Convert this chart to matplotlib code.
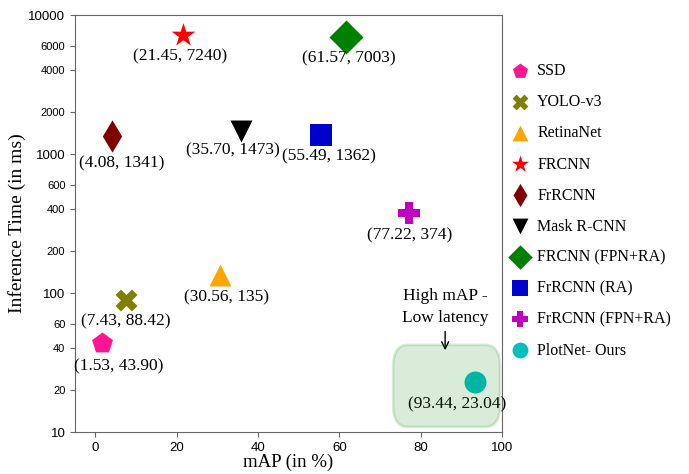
import numpy as np
import matplotlib.pyplot as plt
from matplotlib.patches import FancyBboxPatch

# detector results: mAP (%) vs inference time (ms)
models = ['SSD', 'YOLO-v3', 'RetinaNet', 'FRCNN', 'FrRCNN', 'Mask R-CNN',
          'FRCNN (FPN+RA)', 'FrRCNN (RA)', 'FrRCNN (FPN+RA)', 'PlotNet- Ours']
map_vals = [1.53, 7.43, 30.56, 21.45, 4.08, 35.70, 61.57, 55.49, 77.22, 93.44]
time_vals = [43.90, 88.42, 135, 7240, 1341, 1473, 7003, 1362, 374, 23.04]
point_labels = ['(1.53, 43.90)', '(7.43, 88.42)', '(30.56, 135)', '(21.45, 7240)',
                '(4.08, 1341)', '(35.70, 1473)', '(61.57, 7003)', '(55.49, 1362)',
                '(77.22, 374)', '(93.44, 23.04)']

markers = ['p', 'X', '^', '*', 'd', 'v', 'D', 's', 'P', 'o']
colors = ['deeppink', 'olive', 'orange', 'red', 'maroon', 'black',
          'green', 'mediumblue', 'm', 'c']
sizes = [250, 250, 250, 320, 270, 250, 300, 230, 250, 250]
# where each value label sits relative to its marker (pixels)
label_offsets = [(17, -24), (0, -21), (7, -22), (-3, -22), (10, -27), (-8, -20),
                 (3, -22), (8, -21), (0, -22), (-18, -23)]

yticks = [10, 20, 40, 60, 100, 200, 400, 600, 1000, 2000, 4000, 6000, 10000]

fig = plt.figure(figsize=(6.89, 4.74), dpi=100)
ax = fig.add_axes([0.109, 0.0886, 0.6197, 0.8797])

for i in range(len(models)):
    ax.scatter(map_vals[i], time_vals[i], marker=markers[i], c=colors[i],
               s=sizes[i], label=models[i], zorder=3, linewidths=0)
    dx, dy = label_offsets[i]
    ax.annotate(point_labels[i], (map_vals[i], time_vals[i]),
                xytext=(dx * 0.72, dy * 0.72), textcoords='offset points',
                ha='center', va='center', fontsize=12.5,
                family='Liberation Serif', zorder=4)

ax.set_yscale('log')
ax.set_xlim(-5, 100)
ax.set_ylim(10, 10000)
ax.minorticks_off()
ax.set_yticks(yticks)
ax.set_yticklabels([str(t) for t in yticks])
for lab, t in zip(ax.get_yticklabels(), yticks):
    lab.set_family('Liberation Sans')
    lab.set_fontsize(9.5 if t in (10, 100, 1000, 10000) else 8)
ax.set_xticks([0, 20, 40, 60, 80, 100])
for lab in ax.get_xticklabels():
    lab.set_family('Liberation Sans')
    lab.set_fontsize(9.5)

for sp in ax.spines.values():
    sp.set_color('#666666')
ax.tick_params(colors='#666666', labelcolor='black', length=3.5)

ax.set_xlabel('mAP (in %)', family='Liberation Serif', fontsize=13.5, labelpad=0)
ax.set_ylabel('Inference Time (in ms)', family='Liberation Serif', fontsize=14,
              labelpad=2)

# highlight region around our model
box = FancyBboxPatch((0.745, 0.012), 0.25, 0.197, transform=ax.transAxes,
                     boxstyle='round,pad=0,rounding_size=0.035',
                     mutation_aspect=1.45, facecolor='green', edgecolor='green',
                     alpha=0.15, linewidth=2, zorder=5)
ax.add_patch(box)
ax.annotate('High mAP -\nLow latency', xy=(86, 37), xytext=(86, 58),
            ha='center', va='bottom', fontsize=12.5, family='Liberation Serif',
            linespacing=1.5,
            arrowprops=dict(arrowstyle='->', color='black', lw=1))

ax.legend(loc='upper left', bbox_to_anchor=(1.0, 0.903), frameon=False,
          prop={'family': 'Liberation Serif', 'size': 11.5},
          labelspacing=0.94, handlelength=1.2, handletextpad=0.5,
          borderaxespad=0.1, markerscale=0.72, scatterpoints=1)

plt.savefig('out.png', dpi=100)
